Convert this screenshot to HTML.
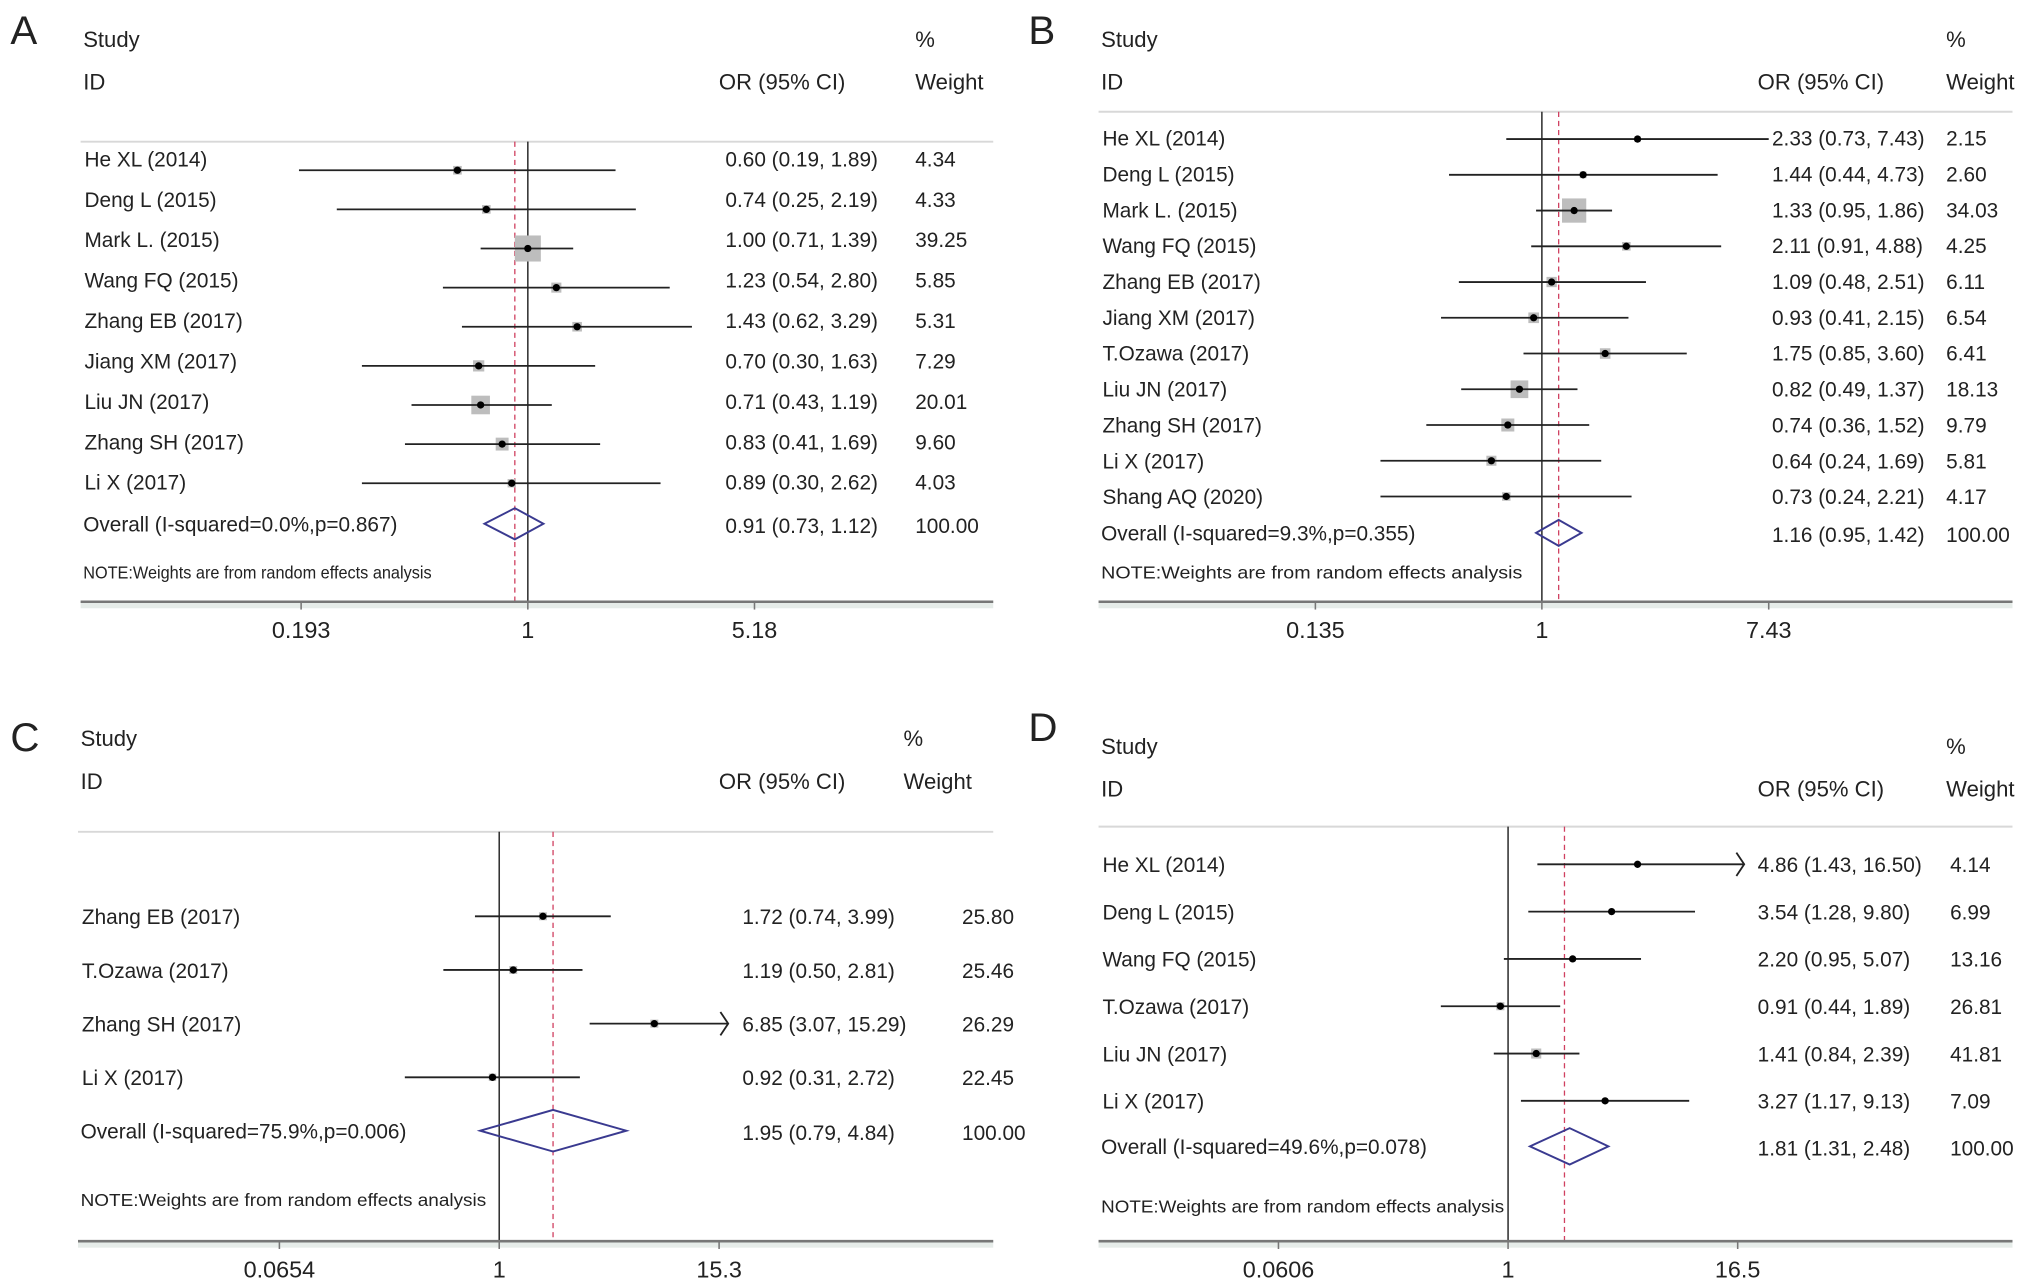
<!DOCTYPE html>
<html><head><meta charset="utf-8">
<style>
html,body{margin:0;padding:0;background:#fff;}
svg{display:block;}
text{font-family:"Liberation Sans",Arial,sans-serif;fill:#222;}
</style></head>
<body>
<svg id="fig" xmlns="http://www.w3.org/2000/svg" width="2032" height="1288" viewBox="0 0 1563 991" preserveAspectRatio="none"></svg>
<script>
// Panel A data
const aStudies = ["He XL (2014)","Deng L (2015)","Mark L. (2015)","Wang FQ (2015)","Zhang EB (2017)","Jiang XM (2017)","Liu JN (2017)","Zhang SH (2017)","Li X (2017)"];
const aOR = [0.60,0.74,1.00,1.23,1.43,0.70,0.71,0.83,0.89];
const aLo = [0.19,0.25,0.71,0.54,0.62,0.30,0.43,0.41,0.30];
const aHi = [1.89,2.19,1.39,2.80,3.29,1.63,1.19,1.69,2.62];
const aW = [4.34,4.33,39.25,5.85,5.31,7.29,20.01,9.60,4.03];
const aOverall = [0.91,0.73,1.12,100.00];
const aOverallLabel = "Overall (I-squared=0.0%,p=0.867)";
const aTicks = [0.193,1,5.18];
const aTickLabels = ["0.193","1","5.18"];
// Panel B data
const bStudies = ["He XL (2014)","Deng L (2015)","Mark L. (2015)","Wang FQ (2015)","Zhang EB (2017)","Jiang XM (2017)","T.Ozawa (2017)","Liu JN (2017)","Zhang SH (2017)","Li X (2017)","Shang AQ (2020)"];
const bOR = [2.33,1.44,1.33,2.11,1.09,0.93,1.75,0.82,0.74,0.64,0.73];
const bLo = [0.73,0.44,0.95,0.91,0.48,0.41,0.85,0.49,0.36,0.24,0.24];
const bHi = [7.43,4.73,1.86,4.88,2.51,2.15,3.60,1.37,1.52,1.69,2.21];
const bW = [2.15,2.60,34.03,4.25,6.11,6.54,6.41,18.13,9.79,5.81,4.17];
const bOverall = [1.16,0.95,1.42,100.00];
const bOverallLabel = "Overall (I-squared=9.3%,p=0.355)";
const bTicks = [0.135,1,7.43];
const bTickLabels = ["0.135","1","7.43"];
// Panel C data
const cStudies = ["Zhang EB (2017)","T.Ozawa (2017)","Zhang SH (2017)","Li X (2017)"];
const cOR = [1.72,1.19,6.85,0.92];
const cLo = [0.74,0.50,3.07,0.31];
const cHi = [3.99,2.81,15.29,2.72];
const cW = [25.80,25.46,26.29,22.45];
const cOverall = [1.95,0.79,4.84,100.00];
const cOverallLabel = "Overall (I-squared=75.9%,p=0.006)";
const cTicks = [0.0654,1,15.3];
const cTickLabels = ["0.0654","1","15.3"];
// Panel D data
const dStudies = ["He XL (2014)","Deng L (2015)","Wang FQ (2015)","T.Ozawa (2017)","Liu JN (2017)","Li X (2017)"];
const dOR = [4.86,3.54,2.20,0.91,1.41,3.27];
const dLo = [1.43,1.28,0.95,0.44,0.84,1.17];
const dHi = [16.50,9.80,5.07,1.89,2.39,9.13];
const dW = [4.14,6.99,13.16,26.81,41.81,7.09];
const dOverall = [1.81,1.31,2.48,100.00];
const dOverallLabel = "Overall (I-squared=49.6%,p=0.078)";
const dTicks = [0.0606,1,16.5];
const dTickLabels = ["0.0606","1","16.5"];

const NS="http://www.w3.org/2000/svg";
const svg=document.getElementById('fig');
function mk(tag,attrs,parent,txt){const e=document.createElementNS(NS,tag);for(const k in attrs)e.setAttribute(k,attrs[k]);if(txt!==undefined)e.textContent=txt;(parent||svg).appendChild(e);return e;}
const f2=v=>v.toFixed(2);

function panel(cfg,studies,or,lo,hi,w,ov,ovLabel,ticks,tickLabels){
  const g=mk('g',{});
  
  
  const x=v=>cfg.x1+Math.log(v)*cfg.k;
  const L=mk('text',{x:cfg.lx,y:cfg.ly,'font-size':31},g,cfg.id);
  
  const h1=mk('text',{x:cfg.left+2,y:cfg.hy,'font-size':17},g,'Study');
  
  const h2=mk('text',{x:cfg.wx,y:cfg.hy,'font-size':17},g,'%');
  
  const h3=mk('text',{x:cfg.left+2,y:cfg.hy+33,'font-size':17},g,'ID');
  
  const h4=mk('text',{x:cfg.orx,y:cfg.hy+33,'font-size':17},g,'OR (95% CI)');
  
  const h5=mk('text',{x:cfg.wx,y:cfg.hy+33,'font-size':17},g,'Weight');
  
  const tl=mk('line',{x1:cfg.left,x2:cfg.right,y1:cfg.top,y2:cfg.top,stroke:'#d8d8d8','stroke-width':1.5},g);
  
  const vl=mk('line',{x1:x(1),x2:x(1),y1:cfg.top,y2:cfg.axisY,stroke:'#333','stroke-width':1.2},g);
  
  const rl=mk('line',{x1:x(ov[0])+(cfg.rOff||0),x2:x(ov[0])+(cfg.rOff||0),y1:cfg.top,y2:cfg.axisY,stroke:'#d04060','stroke-width':1,'stroke-dasharray':'4,3'},g);
  
  const maxX=x(ticks[2]);
  studies.forEach((s,i)=>{
    const y=cfg.row0+i*cfg.dy;
    const ty=y+6-cfg.toff*(1-i/(studies.length));
    const lab=mk('text',{x:cfg.left+3,y:ty,'font-size':16},g,s);
    
    const xl=x(lo[i]);let xh=x(hi[i]);const clipped=hi[i]>=ticks[2]*0.99 && cfg.arrows;
    if(clipped)xh=Math.max(xh,maxX)+(cfg.arrowExtra||0);
    const sz=cfg.bs*Math.sqrt(w[i]);
    const box=mk('rect',{x:x(or[i])-sz/2,y:y-sz/2,width:sz,height:sz,fill:'#bdbdbd'},g);
    
    const ci=mk('line',{x1:xl,x2:xh,y1:y,y2:y,stroke:'#222','stroke-width':1.4},g);
    
    if(clipped){const ar=mk('polyline',{points:`${xh-6},${y-9} ${xh},${y} ${xh-6},${y+9}`,fill:'none',stroke:'#222','stroke-width':1.4},g);
      }
    const pt=mk('circle',{cx:x(or[i]),cy:y,r:2.8,fill:'#000'},g);
    
    const ct=mk('text',{x:cfg.cix,y:ty,'font-size':16},g,`${f2(or[i])} (${f2(lo[i])}, ${f2(hi[i])})`);
    
    const wt=mk('text',{x:cfg.wvx||cfg.wx,y:ty,'font-size':16},g,f2(w[i]));
    
  });
  const oy=cfg.ovY;
  const ol=mk('text',{x:cfg.left+2,y:oy+6,'font-size':16},g,ovLabel);
  
  const dx=cfg.dOff||0, ds=cfg.dScale||1;
  const xc=x(ov[0])+dx;
  const dia=mk('polygon',{points:`${xc+(x(ov[1])-x(ov[0]))*ds},${oy} ${xc},${oy-cfg.dh} ${xc+(x(ov[2])-x(ov[0]))*ds},${oy} ${xc},${oy+cfg.dh}`,fill:'none',stroke:'#3a3a90','stroke-width':1.5},g);
  
  const oc=mk('text',{x:cfg.cix,y:oy+7,'font-size':16},g,`${f2(ov[0])} (${f2(ov[1])}, ${f2(ov[2])})`);
  
  const ow=mk('text',{x:cfg.wvx||cfg.wx,y:oy+7,'font-size':16},g,f2(ov[3]));
  
  const nt=mk('text',{x:cfg.left+2,y:cfg.noteY,'font-size':13.5,textLength:cfg.noteLen,lengthAdjust:'spacingAndGlyphs'},g,'NOTE:Weights are from random effects analysis');
  
  const band=mk('rect',{x:cfg.left,y:cfg.axisY,width:cfg.right-cfg.left,height:5,fill:'#e6ece9'},g);
  
  const ax=mk('line',{x1:cfg.left,x2:cfg.right,y1:cfg.axisY,y2:cfg.axisY,stroke:'#777','stroke-width':2},g);
  
  ticks.forEach((t,i)=>{
    const tk=mk('line',{x1:x(t),x2:x(t),y1:cfg.axisY,y2:cfg.axisY+6,stroke:'#777','stroke-width':1.2},g);
    
    const lb=mk('text',{x:x(t),y:cfg.axisY+28,'font-size':18,'text-anchor':'middle'},g,tickLabels[i]);
    
  });
}

panel({id:'A',lx:8,ly:34,left:62,right:764,hy:36,orx:553,wx:704,cix:558,top:109,axisY:463,x1:406,k:106,row0:131,dy:30.1,toff:9,ovY:403,dh:12,noteY:445,noteLen:268,bs:3.2},
  aStudies,aOR,aLo,aHi,aW,aOverall,aOverallLabel,aTicks,aTickLabels);
panel({id:'B',lx:791,ly:34,left:845,right:1548,hy:36,orx:1352,wx:1497,cix:1363,top:86,axisY:463,x1:1186,k:87,row0:107,dy:27.5,toff:1,ovY:410,dh:10,noteY:445,noteLen:324,bs:3.2},
  bStudies,bOR,bLo,bHi,bW,bOverall,bOverallLabel,bTicks,bTickLabels);
panel({id:'C',lx:8,ly:578,left:60,right:764,hy:574,orx:553,wx:695,wvx:740,cix:571,top:640,axisY:955,x1:384,k:62,row0:705,dy:41.3,toff:0,ovY:870,dh:16,noteY:928,noteLen:312,arrows:true,arrowExtra:7,bs:1.2},
  cStudies,cOR,cLo,cHi,cW,cOverall,cOverallLabel,cTicks,cTickLabels);
panel({id:'D',lx:791,ly:570,left:845,right:1548,hy:580,orx:1352,wx:1497,wvx:1500,cix:1352,top:636,axisY:955,x1:1160,k:63,row0:665,dy:36.4,toff:0,ovY:882,dh:14,noteY:933,noteLen:310,arrows:true,arrowExtra:5,bs:1.2,rOff:6,dOff:10,dScale:1.5},
  dStudies,dOR,dLo,dHi,dW,dOverall,dOverallLabel,dTicks,dTickLabels);
</script>
</body></html>
